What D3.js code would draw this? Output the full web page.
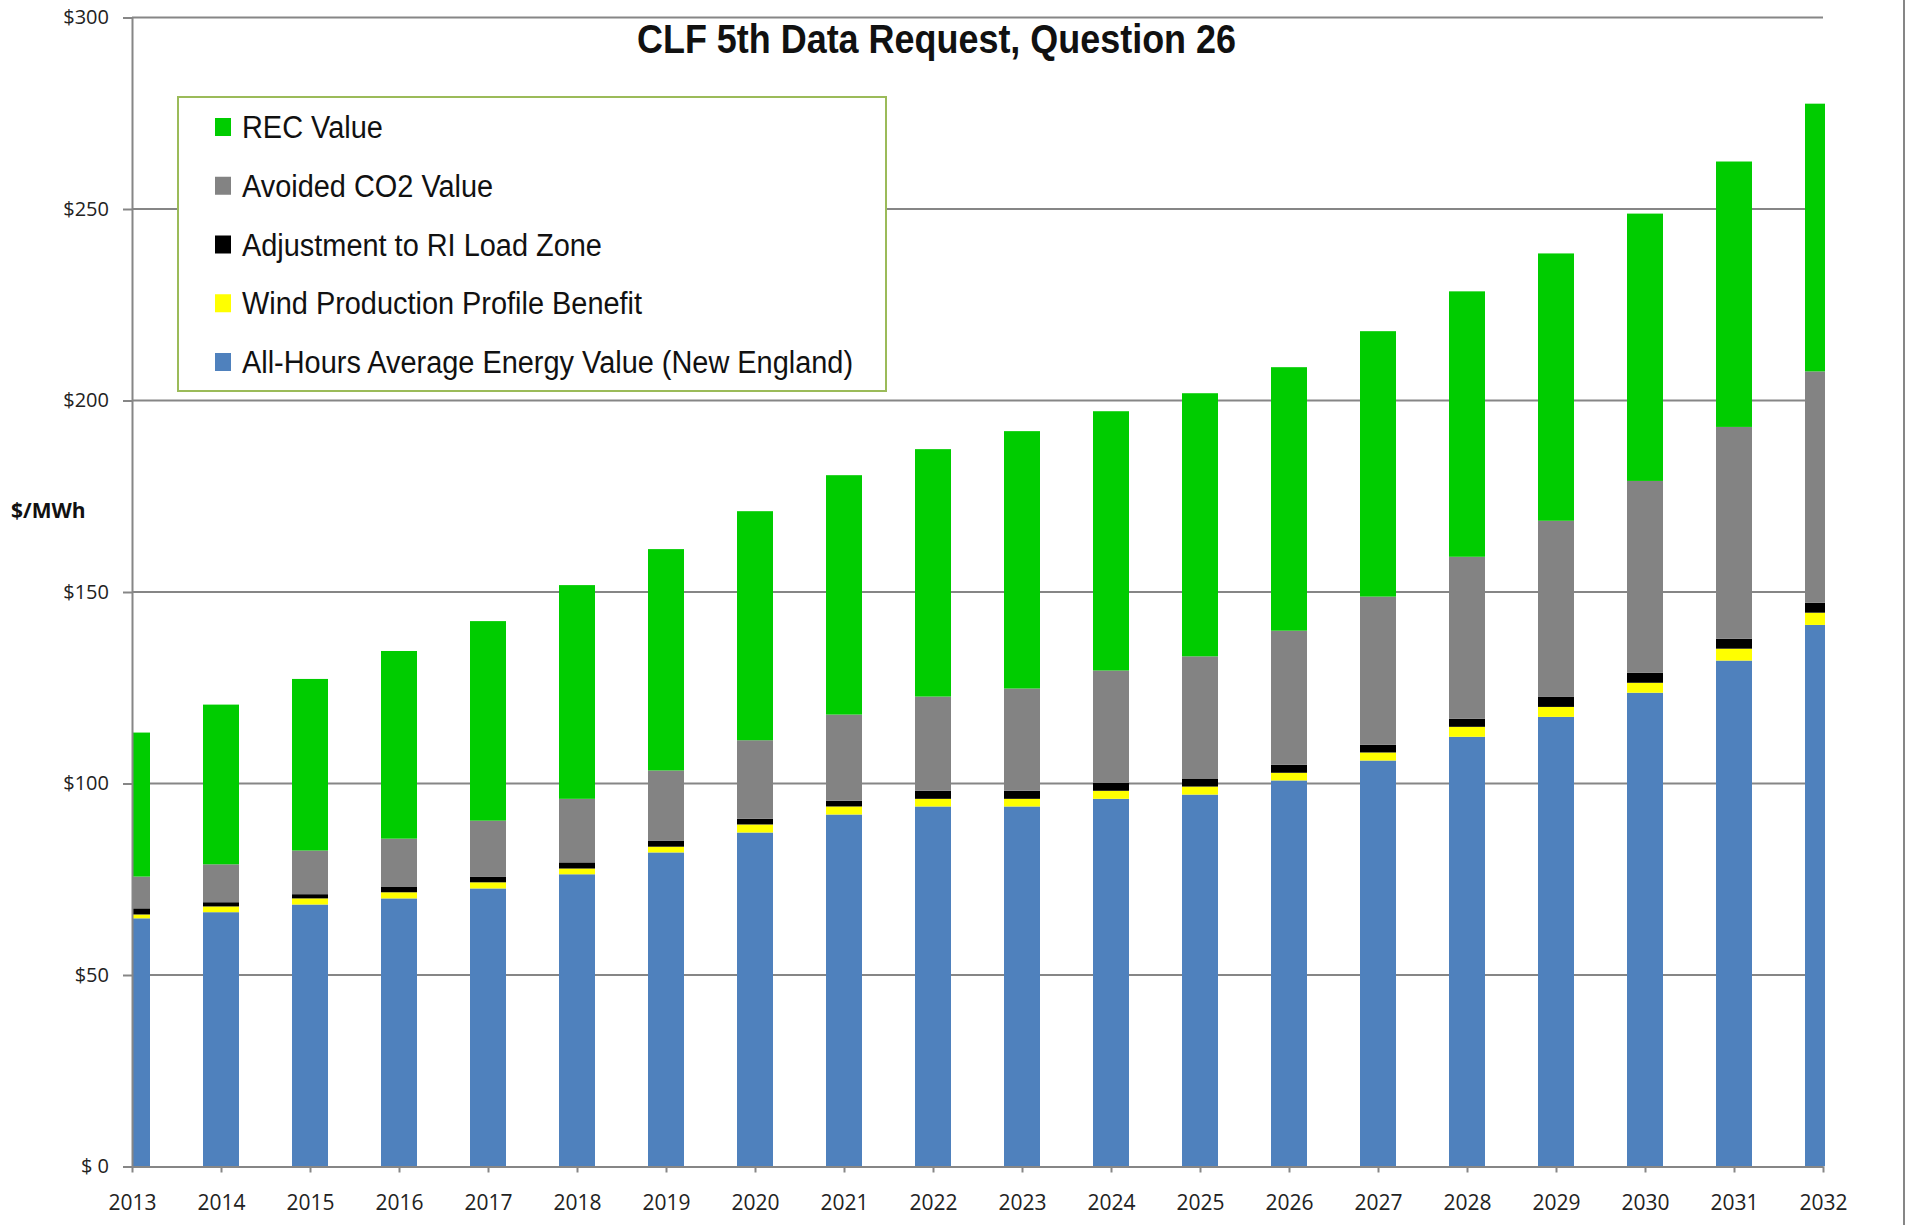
<!DOCTYPE html>
<html>
<head>
<meta charset="utf-8">
<script src="https://cdn.jsdelivr.net/npm/d3@7"></script>
<style>
  html, body { margin: 0; padding: 0; background: #fff; }
  svg { display: block; }
</style>
</head>
<body>
<svg id="chart" width="1906" height="1225"></svg>
<script>
// ---- Data ----
const years = ["2013","2014","2015","2016","2017","2018","2019","2020","2021","2022",
               "2023","2024","2025","2026","2027","2028","2029","2030","2031","2032"];
const energyValue = [64.8,66.4,68.4,70.0,72.6,76.3,82.0,87.2,91.9,94.0,94.0,96.0,97.1,100.8,106.0,112.2,117.4,123.7,132.1,141.4];
const windBenefit = [1.0,1.5,1.6,1.6,1.6,1.5,1.5,2.1,2.1,2.0,2.0,2.1,2.1,2.0,2.1,2.6,2.6,2.6,3.1,3.2];
const riAdjustment = [1.6,1.1,1.1,1.5,1.5,1.6,1.6,1.5,1.5,2.1,2.1,2.1,2.1,2.1,2.0,2.1,2.6,2.6,2.6,2.6];
const co2Value = [8.3,9.9,11.4,12.5,14.6,16.6,18.3,20.5,22.5,24.6,26.7,29.3,31.9,35.0,38.7,42.3,46.0,50.1,55.3,60.4];
const recValue = [37.6,41.7,44.8,49.0,52.1,55.8,57.8,59.8,62.5,64.6,67.2,67.7,68.7,68.8,69.3,69.3,69.8,69.8,69.3,69.9];
const yTicks = [0,50,100,150,200,250,300];
const yTickLabels = ["$ 0","$50","$100","$150","$200","$250","$300"];

const seriesDefs = [
  { key: "energy", name: "All-Hours Average Energy Value (New England)", values: energyValue, color: "#4F81BD" },
  { key: "wind", name: "Wind Production Profile Benefit", values: windBenefit, color: "#FFFF00" },
  { key: "ri", name: "Adjustment to RI Load Zone", values: riAdjustment, color: "#000000" },
  { key: "co2", name: "Avoided CO2 Value", values: co2Value, color: "#838383" },
  { key: "rec", name: "REC Value", values: recValue, color: "#00CC00" }
];
const legendOrder = ["rec","co2","ri","wind","energy"];

// ---- Layout ----
const svg = d3.select("#chart");
const plotLeft = 132, plotRight = 1823, plotTop = 17.5, plotBottom = 1166.5;
const barWidth = 36;

const table = years.map((yr, i) => {
  const row = { year: yr };
  seriesDefs.forEach(s => row[s.key] = s.values[i]);
  return row;
});
const stacked = d3.stack().keys(seriesDefs.map(s => s.key))(table);

const x = d3.scalePoint().domain(years).range([plotLeft, plotRight]);
const y = d3.scaleLinear().domain([0, 300]).range([plotBottom, plotTop]);

const axisColor = "#868686";
const tickFont = "'Open Sans', 'Noto Sans', sans-serif";
const condFont = "'Liberation Sans Narrow', 'Liberation Sans', Arial, sans-serif";

// right border
svg.append("line").attr("x1", 1904).attr("x2", 1904).attr("y1", 0).attr("y2", 1225)
  .attr("stroke", axisColor).attr("stroke-width", 2);

// gridlines
svg.append("g").selectAll("line").data(yTicks.filter(d => d > 0)).join("line")
  .attr("x1", plotLeft).attr("x2", plotRight)
  .attr("y1", d => y(d)).attr("y2", d => y(d))
  .attr("stroke", axisColor).attr("stroke-width", 2);

// bars
svg.append("defs").append("clipPath").attr("id", "plotclip")
  .append("rect").attr("x", plotLeft).attr("y", 0).attr("width", plotRight - plotLeft + 2).attr("height", plotBottom);

const barsG = svg.append("g").attr("clip-path", "url(#plotclip)");
stacked.forEach((layer, li) => {
  barsG.append("g").attr("fill", seriesDefs[li].color)
    .selectAll("rect").data(layer).join("rect")
    .attr("x", d => x(d.data.year) - barWidth / 2)
    .attr("width", barWidth)
    .attr("y", d => y(d[1]))
    .attr("height", d => y(d[0]) - y(d[1]));
});

// y axis
const yAxis = d3.axisLeft(y).tickValues(yTicks).tickSize(9).tickPadding(14)
  .tickFormat((d, i) => yTickLabels[i]);
const yg = svg.append("g").attr("transform", `translate(${plotLeft},0)`).call(yAxis);
yg.select(".domain").attr("stroke", axisColor).attr("stroke-width", 2);
yg.selectAll(".tick line").attr("stroke", axisColor).attr("stroke-width", 2);
yg.selectAll(".tick text").attr("fill", "#222").attr("font-size", 20)
  .attr("font-family", tickFont);

// x axis
const xAxis = d3.axisBottom(x).tickSize(6).tickPadding(23).tickSizeOuter(0);
const xg = svg.append("g").attr("transform", `translate(0,${plotBottom})`).call(xAxis);
xg.select(".domain").attr("stroke", axisColor).attr("stroke-width", 2);
xg.selectAll(".tick line").attr("stroke", axisColor).attr("stroke-width", 2);
xg.selectAll(".tick text").attr("fill", "#222").attr("font-size", 21)
  .attr("font-family", tickFont);

// y axis title
svg.append("text").attr("x", 11).attr("y", 518)
  .attr("font-family", tickFont)
  .attr("font-weight", "bold").attr("font-size", 21).attr("fill", "#111")
  .text("$/MWh");

// title (condensed to reference width)
const title = svg.append("text").attr("x", 637).attr("y", 53)
  .attr("font-family", condFont)
  .attr("font-weight", "bold").attr("font-size", 40).attr("fill", "#111")
  .text("CLF 5th Data Request, Question 26");
title.attr("textLength", 599).attr("lengthAdjust", "spacingAndGlyphs");

// legend
const lg = svg.append("g");
lg.append("rect").attr("x", 178).attr("y", 97).attr("width", 708).attr("height", 294)
  .attr("fill", "#fff").attr("stroke", "#9BBB59").attr("stroke-width", 2);
const rowY = d3.scalePoint().domain(legendOrder).range([127, 362]);
const byKey = Object.fromEntries(seriesDefs.map(s => [s.key, s]));
const legendTexts = [];
legendOrder.forEach(k => {
  const s = byKey[k];
  lg.append("rect").attr("x", 215).attr("y", rowY(k) - 9).attr("width", 16).attr("height", 18)
    .attr("fill", s.color);
  legendTexts.push(lg.append("text").attr("x", 242).attr("y", rowY(k) + 11)
    .attr("font-family", condFont)
    .attr("font-size", 31).attr("fill", "#111")
    .text(s.name));
});
const natural = legendTexts.map(t => t.node().getComputedTextLength());
const ratio = 611 / d3.max(natural);
legendTexts.forEach((t, i) => t.attr("textLength", natural[i] * ratio).attr("lengthAdjust", "spacingAndGlyphs"));
</script>
</body>
</html>
